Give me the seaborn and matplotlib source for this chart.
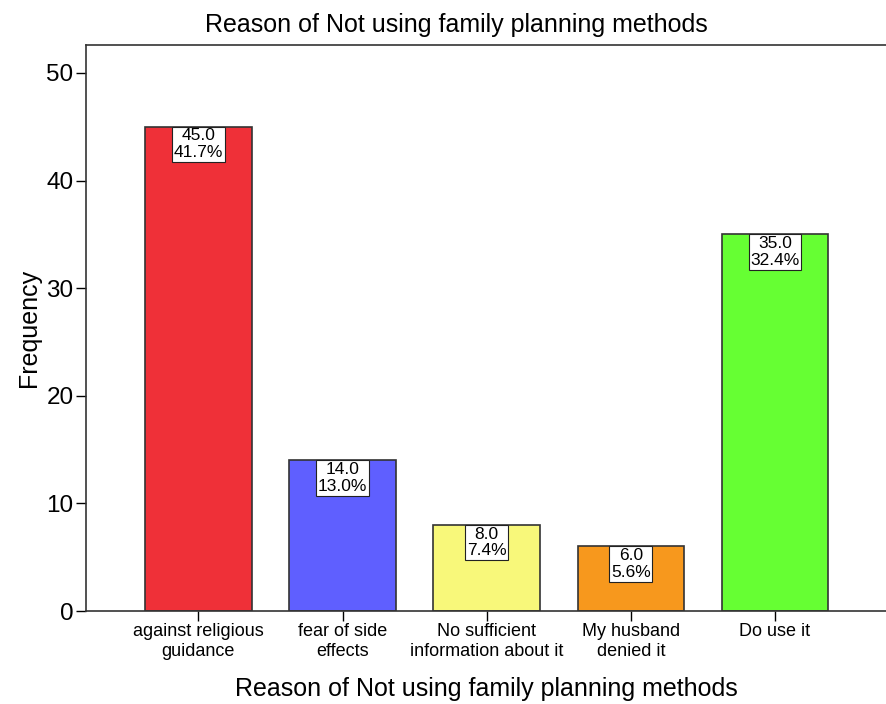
import numpy as np
import pandas as pd
import seaborn as sns
import matplotlib.pyplot as plt

# Datos
reasons = ["against religious\nguidance", "fear of side\neffects",
           "No sufficient\ninformation about it", "My husband\ndenied it", "Do use it"]
frequency = [45.0, 14.0, 8.0, 6.0, 35.0]
percent = [41.7, 13.0, 7.4, 5.6, 32.4]
bar_colors = ["#EF3038", "#5F5FFF", "#F8F87A", "#F7981D", "#66FF33"]

df = pd.DataFrame({"reason": reasons, "frequency": frequency})

sns.set_style("white")
plt.rcParams['font.family'] = ['Liberation Sans', 'DejaVu Sans']
plt.rcParams['text.color'] = 'black'
plt.rcParams['axes.labelcolor'] = 'black'
plt.rcParams['xtick.color'] = 'black'
plt.rcParams['ytick.color'] = 'black'

fig = plt.figure(figsize=(8.86, 7.04), dpi=100)
ax = fig.add_axes([86 / 886, 1 - 611 / 704, 800 / 886, 566 / 704])

sns.barplot(data=df, x="reason", y="frequency", hue="reason", palette=bar_colors,
            legend=False, width=0.74, edgecolor="#333333", linewidth=1.2,
            saturation=1, ax=ax)

# Etiquetas de cada barra
for i, (f, p) in enumerate(zip(frequency, percent)):
    ax.text(i, f - 0.15, f"{f:.1f}\n{p:.1f}%", ha="center", va="top",
            fontsize=12.5, linespacing=1.15,
            bbox=dict(facecolor="white", edgecolor="#222222", linewidth=0.8, pad=1.2))

ax.set_xlim(-0.78, 4.77)
ax.set_ylim(0, 52.6)
ax.set_yticks([0, 10, 20, 30, 40, 50])
ax.tick_params(axis="y", labelsize=17.5, length=7, width=1, direction="out", left=True, pad=2)
ax.tick_params(axis="x", labelsize=13, length=7, width=1, direction="out", bottom=True, pad=2)
for lbl in ax.get_xticklabels():
    lbl.set_linespacing(1.2)

fig.suptitle("Reason of Not using family planning methods", fontsize=18, x=456 / 886, y=0.982)
ax.set_xlabel("Reason of Not using family planning methods", fontsize=18, labelpad=12)
ax.set_ylabel("Frequency", fontsize=18, labelpad=4)

for s in ["left", "bottom", "top"]:
    ax.spines[s].set_visible(True)
    ax.spines[s].set_color("#333333")
    ax.spines[s].set_linewidth(1.2)
ax.spines["right"].set_visible(False)

fig.savefig("out.png", dpi=100)
